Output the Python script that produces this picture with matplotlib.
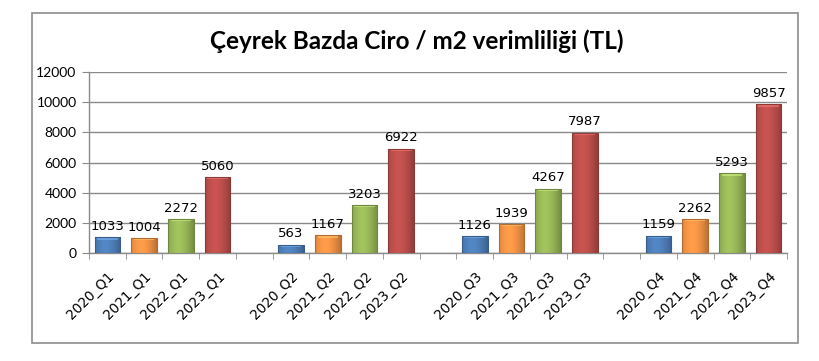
import matplotlib
matplotlib.use("Agg")
import matplotlib.pyplot as plt
import numpy as np
from matplotlib.patches import Rectangle
from matplotlib.colors import to_rgb

title = "Çeyrek Bazda Ciro / m2 verimliliği (TL)"
quarters = ["Q1", "Q2", "Q3", "Q4"]
years = ["2020", "2021", "2022", "2023"]
values = {
    "2020": [1033, 563, 1126, 1159],
    "2021": [1004, 1167, 1939, 2262],
    "2022": [2272, 3203, 4267, 5293],
    "2023": [5060, 6922, 7987, 9857],
}
colors = {"2020": "#4F81BD", "2021": "#F79646", "2022": "#9BBB59", "2023": "#C0504D"}
yticks = [0, 2000, 4000, 6000, 8000, 10000, 12000]

# Build category slots (4 bars per quarter + empty gap slot)
labels, vals, cols = [], [], []
for qi, q in enumerate(quarters):
    for y in years:
        labels.append(f"{y}_{q}")
        vals.append(values[y][qi])
        cols.append(colors[y])
    if qi < len(quarters) - 1:
        labels.append("")
        vals.append(np.nan)
        cols.append("white")
x = np.arange(len(labels))

W, H = 820, 361
fig = plt.figure(figsize=(W / 100, H / 100), dpi=100)
fig.patch.set_facecolor("white")
fig.add_artist(Rectangle((32 / W, 1 - 343 / H), (798 - 32) / W, (343 - 13) / H,
                         transform=fig.transFigure, fill=False,
                         edgecolor="#8C8C8C", linewidth=1.2))

ax = fig.add_axes([89 / W, 1 - 253 / H, (787 - 89) / W, (253 - 72) / H])
ax.set_xlim(-0.5, len(labels) - 0.5)
ax.set_ylim(0, 12000)

bars = ax.bar(x, np.nan_to_num(vals), width=0.7, color=cols, zorder=3)

# gradient shading for a bevelled look
grad = np.linspace(0, 1, 64)
shade = 1 - 0.28 * (np.abs(grad - 0.4) / 0.6) ** 1.6
for b, v, c in zip(bars, vals, cols):
    if np.isnan(v):
        b.set_visible(False)
        continue
    rgb = np.array(to_rgb(c))
    img = np.clip(rgb[None, None, :] * shade[None, :, None] * 1.05, 0, 1)
    x0, w = b.get_x(), b.get_width()
    im = ax.imshow(img, extent=(x0, x0 + w, 0, v), aspect="auto", zorder=3.5,
                   interpolation="bilinear")
    im.set_clip_path(b)
    dark = tuple(rgb * 0.72)
    b.set_edgecolor(dark)
    b.set_linewidth(0.8)
    b.set_zorder(4)
    b.set_facecolor("none")
    # subtle top highlight
    ax.add_patch(Rectangle((x0 + w * 0.1, v - 160), w * 0.8, 130,
                           facecolor=tuple(np.clip(rgb * 1.15 + 0.12, 0, 1)),
                           edgecolor="none", zorder=3.8, alpha=0.6))
    ax.annotate(f"{int(v)}", (b.get_x() + w / 2, v), xytext=(0, 3),
                textcoords="offset points", ha="center", va="bottom",
                fontsize=9.5, family="DejaVu Sans", color="black", zorder=5)

ax.set_yticks(yticks)
ax.set_yticklabels([str(t) for t in yticks], family="Lato", fontsize=10)
ax.yaxis.grid(True, color="#8A8A8A", linewidth=1.0, zorder=0)
ax.set_axisbelow(True)

ax.set_xticks(x)
ax.set_xticklabels(labels, rotation=45, ha="right", rotation_mode="anchor",
                   fontsize=9.8, family="DejaVu Sans")
ax.set_xticks(np.arange(-0.5, len(labels)), minor=True)
ax.tick_params(axis="x", which="major", length=0, pad=12)
ax.tick_params(axis="x", which="minor", length=4, color="#8A8A8A", direction="out")
ax.tick_params(axis="y", length=5, color="#8A8A8A", pad=4)

for s in ["top", "right"]:
    ax.spines[s].set_visible(False)
for s in ["left", "bottom"]:
    ax.spines[s].set_color("#8A8A8A")
    ax.spines[s].set_linewidth(1.0)

fig.text(417 / W, 1 - 41 / H, title, ha="center", va="center",
         fontsize=17.5, fontweight="bold", family="Lato", color="black")

fig.savefig("out.png", dpi=100)
